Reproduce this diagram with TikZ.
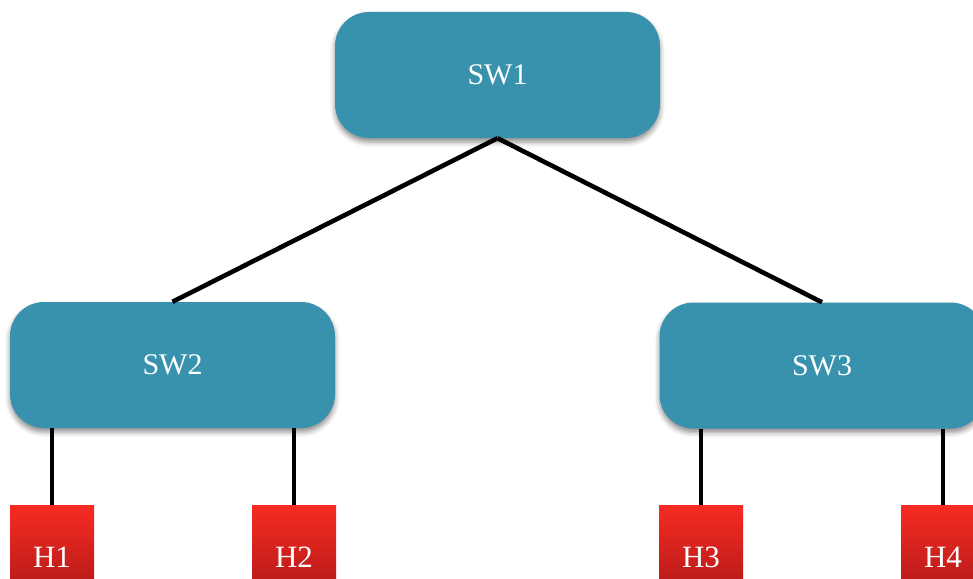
\documentclass[tikz,border=0pt]{standalone}
\usepackage{fontspec}
\setmainfont{Liberation Serif}
\usetikzlibrary{shadows,shadows.blur}
\definecolor{swblue}{HTML}{3892AE}
\definecolor{hosttop}{HTML}{F72B23}
\definecolor{hostbot}{HTML}{A61616}
\tikzset{
  switchbox/.style={draw=none, fill=swblue, rounded corners=34pt, minimum width=325pt,
    minimum height=126pt, text=white, font=\fontsize{30}{32}\selectfont, inner sep=0pt,
    blur shadow={shadow xshift=0pt, shadow yshift=-4pt, shadow blur radius=5pt, shadow opacity=45}},
  hostbox/.style={draw=none, top color=hosttop, bottom color=hostbot, minimum width=84pt,
    minimum height=104pt, inner sep=0pt},
  hostlabel/.style={text=white, font=\fontsize{31}{33}\selectfont, inner sep=0pt},
  link/.style={line width=4.6pt, black}
}
\begin{document}
\begin{tikzpicture}[x=1pt, y=-1pt]
\useasboundingbox (0,0) rectangle (973,578);
\node[switchbox] (sw1) at (497.5,75) {SW1};
\node[switchbox] (sw2) at (172.5,365) {SW2};
\node[switchbox] (sw3) at (822,365.5) {SW3};
\node[hostbox] (h1) at (52,557) {};
\node[hostbox] (h2) at (294,557) {};
\node[hostbox] (h3) at (701,557) {};
\node[hostbox] (h4) at (943,557) {};
\node[hostlabel] (l1) at (h1.center) {H1};
\node[hostlabel] (l2) at (h2.center) {H2};
\node[hostlabel] (l3) at (h3.center) {H3};
\node[hostlabel] (l4) at (h4.center) {H4};
\draw[link] (sw1.south) -- (sw2.north);
\draw[link] (sw1.south) -- (sw3.north);
\draw[link] (sw2.south -| h1.north) -- (h1.north);
\draw[link] (sw2.south -| h2.north) -- (h2.north);
\draw[link] (sw3.south -| h3.north) -- (h3.north);
\draw[link] (sw3.south -| h4.north) -- (h4.north);
\end{tikzpicture}
\end{document}
